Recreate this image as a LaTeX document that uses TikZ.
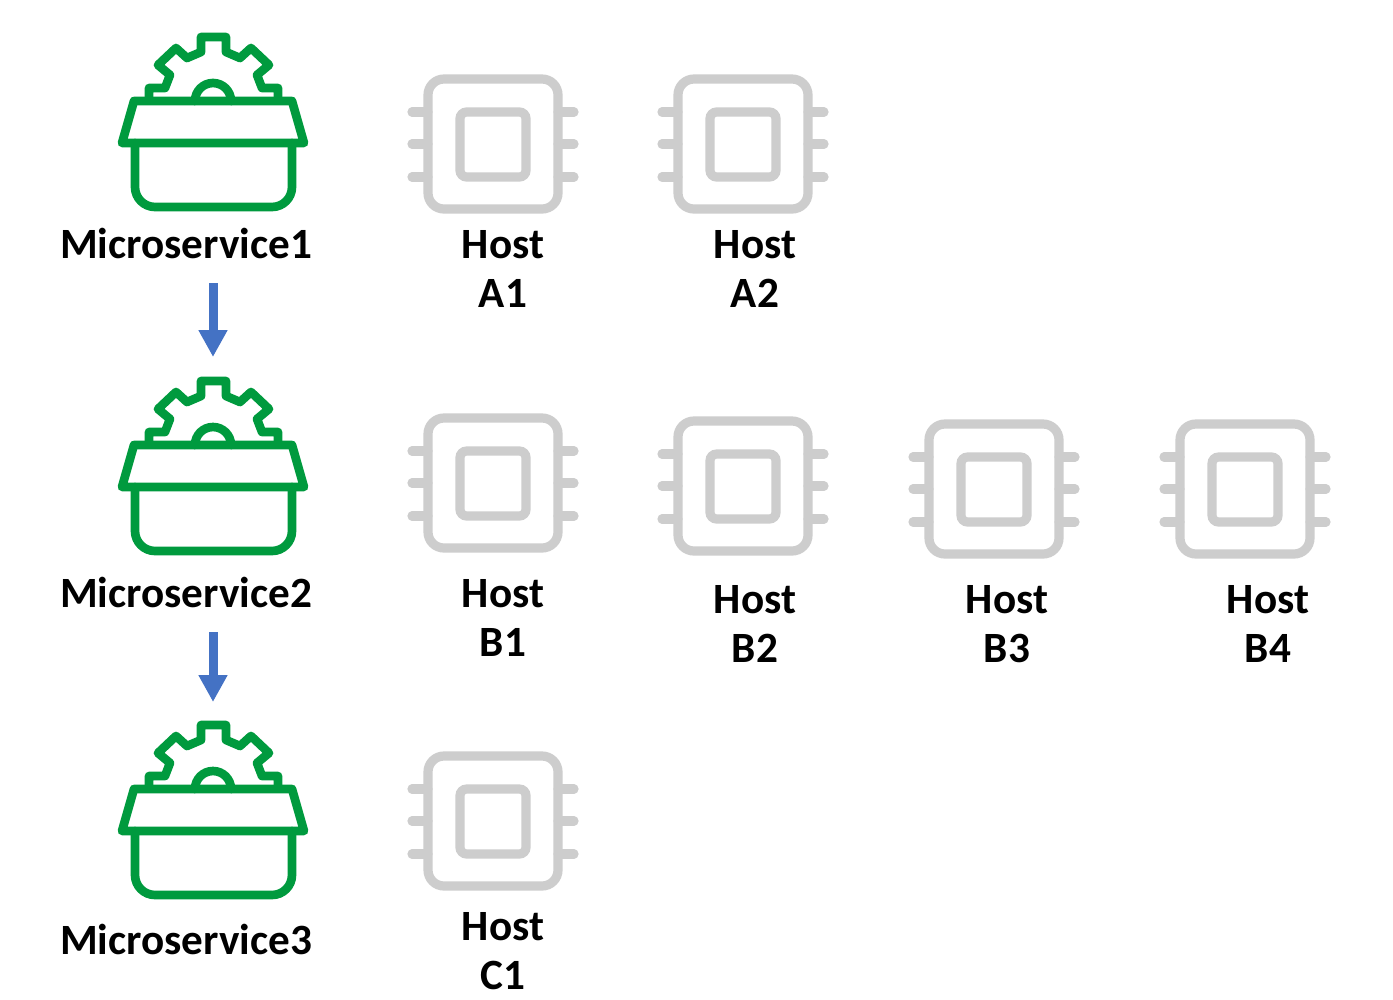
\documentclass[tikz,border=0pt]{standalone}
\usepackage{fontspec}
\setmainfont{Carlito}
\usetikzlibrary{arrows.meta}
\definecolor{svcgreen}{HTML}{009A3E}
\definecolor{chipgray}{HTML}{CDCDCD}
\definecolor{flowblue}{HTML}{4472C4}
\tikzset{
  label text/.style={anchor=base,inner sep=0pt,align=center,font=\fontsize{32.4}{36.75}\selectfont\bfseries},
  flow arrow/.style={draw=flowblue,line width=6.75pt,-{Triangle[length=20.25pt,width=20.5pt]}},
  serviceicon/.pic={
    \begin{scope}[yscale=-1,draw=svcgreen,line width=6.5pt,line join=round,line cap=round]
    % gear
    \draw (-64,-3) -- (-64,-13) -- (-48,-13) -- (-43,-26) -- (-55,-36) -- (-37,-53) -- (-26,-43) -- (-12,-49) -- (-12,-64)
      -- (13,-64) -- (13,-49) -- (27,-43) -- (38,-53) -- (56,-36) -- (44,-26) -- (49,-13) -- (65,-13) -- (65,-3);
    \draw (-18,0) arc (180:360:18);
    % lid
    \draw (-79,0) -- (79,0) -- (91,42) -- (-91,42) -- cycle;
    % box
    \draw [rounded corners=15pt] (-78,42) -- (-78,106) -- (79,106) -- (79,42);
    \end{scope}
  },
  hosticon/.pic={
    \begin{scope}[yscale=-1,draw=chipgray,line width=6.9pt,line cap=round]
    \draw [rounded corners=12pt] (-65,-65) rectangle (65,65);
    \draw [rounded corners=5pt] (-33,-32) rectangle (33,33);
    \foreach \pinY in {-32,0,33} {
      \draw (-81,\pinY) -- (-65,\pinY);
      \draw (65,\pinY) -- (81,\pinY);
    }
    \end{scope}
  },
}
\begin{document}
\begin{tikzpicture}[x=0.75pt,y=0.75pt,yscale=-1]
\useasboundingbox (0,0) rectangle (1393,1000);

% microservices
\pic (svcOne) at (213,101) {serviceicon};
\pic (svcTwo) at (213,445) {serviceicon};
\pic (svcThree) at (213,789) {serviceicon};
\node [label text] (lblOne) at (186,258) {Microservice1};
\node [label text] (lblTwo) at (186,607) {Microservice2};
\node [label text] (lblThree) at (186,954) {Microservice3};

% arrows between services
\coordinate (flowOneA) at (213,283);
\coordinate (flowOneB) at (213,357);
\coordinate (flowTwoA) at (213,632);
\coordinate (flowTwoB) at (213,702);
\draw [flow arrow] (flowOneA) -- (flowOneB);
\draw [flow arrow] (flowTwoA) -- (flowTwoB);

% hosts
\pic (hostA1) at (493,144) {hosticon};
\pic (hostA2) at (743,144) {hosticon};
\pic (hostB1) at (493,483) {hosticon};
\pic (hostB2) at (743,486) {hosticon};
\pic (hostB3) at (994,489) {hosticon};
\pic (hostB4) at (1245,489) {hosticon};
\pic (hostC1) at (493,821) {hosticon};
\node [label text] (lblA1) at (503,307) {Host\\A1};
\node [label text] (lblA2) at (755,307) {Host\\A2};
\node [label text] (lblB1) at (503,656) {Host\\B1};
\node [label text] (lblB2) at (755,662) {Host\\B2};
\node [label text] (lblB3) at (1007,662) {Host\\B3};
\node [label text] (lblB4) at (1268,662) {Host\\B4};
\node [label text] (lblC1) at (503,989) {Host\\C1};

\end{tikzpicture}
\end{document}
